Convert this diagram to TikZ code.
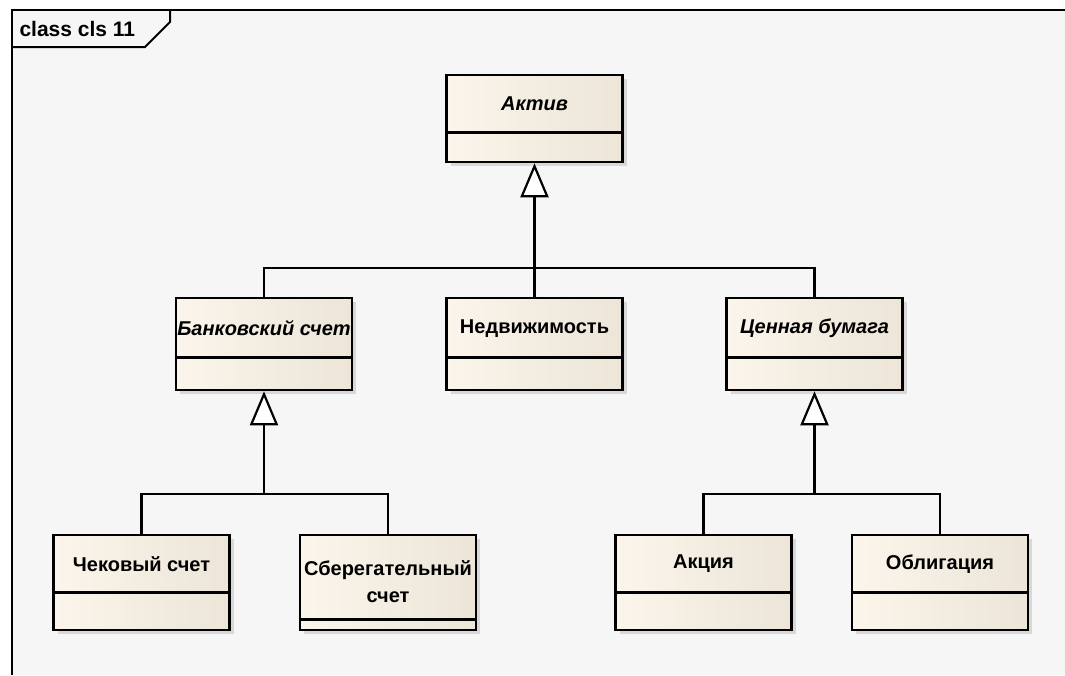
\documentclass[tikz,border=0pt]{standalone}
\usepackage{fontspec}
\setmainfont{Liberation Sans}
\usetikzlibrary{arrows.meta,shadows}
\definecolor{clsleft}{RGB}{251,245,235}
\definecolor{clsright}{RGB}{236,229,216}
\definecolor{paper}{RGB}{246,246,246}

\begin{document}
\begin{tikzpicture}[x=1pt,y=-1pt,
  cls/.style={draw=black, line width=2.6pt, left color=clsleft, right color=clsright,
    drop shadow={shadow xshift=4pt, shadow yshift=-4pt, opacity=0.25}, minimum width=176pt, inner sep=0pt},
  cname/.style={font=\fontsize{20}{27}\selectfont\bfseries, align=center},
  aname/.style={font=\fontsize{20}{27}\selectfont\bfseries\itshape, align=center},
  divider/.style={line width=2.6pt},
  link/.style={line width=2.2pt},
  gen/.style={link, -{Triangle[fill=white, length=34pt, width=28pt]}}]
\useasboundingbox (0,0) rectangle (1065,675);
\fill[white] (0,0) rectangle (1065,675);
\fill[paper] (12,10) rectangle (1065,675);
\draw[line width=2.2pt] (1065,10) -- (12,10) -- (12,675);
\draw[line width=2pt] (12,47) -- (145,47) -- (170,22) -- (170,10);
\node[font=\fontsize{21}{25}\selectfont\bfseries, anchor=west] (frametitle) at (16,29) {class cls 11};

\node[cls, minimum height=87pt] (aktiv) at (534.5,118.5) {};
\draw[divider] ([yshift=31pt]aktiv.south west) -- ([yshift=31pt]aktiv.south east);
\node[aname] (aktivt) at (534.5,104) {Актив};

\node[cls, minimum height=92pt] (bank) at (264,344) {};
\draw[divider] ([yshift=34pt]bank.south west) -- ([yshift=34pt]bank.south east);
\node[aname] (bankt) at (264,328) {Банковский счет};
\node[cls, minimum height=92pt] (nedv) at (534.5,344) {};
\draw[divider] ([yshift=34pt]nedv.south west) -- ([yshift=34pt]nedv.south east);
\node[cname] (nedvt) at (534.5,329) {Недвижимость};
\node[cls, minimum height=92pt] (cennaya) at (814.5,344) {};
\draw[divider] ([yshift=34pt]cennaya.south west) -- ([yshift=34pt]cennaya.south east);
\node[aname] (cennayat) at (814.5,328) {Ценная бумага};

\node[cls, minimum height=95pt] (chek) at (141.5,582.5) {};
\draw[divider] ([yshift=39pt]chek.south west) -- ([yshift=39pt]chek.south east);
\node[cname] (chekt) at (141.5,564) {Чековый счет};
\node[cls, minimum height=95pt] (sber) at (388,582.5) {};
\draw[divider] ([yshift=12pt]sber.south west) -- ([yshift=12pt]sber.south east);
\node[cname] (sbert) at (388,582) {Сберегательный\\счет};
\node[cls, minimum height=95pt] (akcia) at (703.5,582.5) {};
\draw[divider] ([yshift=39pt]akcia.south west) -- ([yshift=39pt]akcia.south east);
\node[cname] (akciat) at (703.5,564) {Акция};
\node[cls, minimum height=95pt] (oblig) at (940,582.5) {};
\draw[divider] ([yshift=39pt]oblig.south west) -- ([yshift=39pt]oblig.south east);
\node[cname] (obligt) at (940,564) {Облигация};

\coordinate (topbus) at (534.5,268);
\draw[link] (bank.north) |- (topbus) -| (cennaya.north);
\draw[gen] (nedv.north) -- (aktiv.south);
\coordinate (leftbus) at (264,494);
\draw[link] (chek.north) |- (leftbus) -| (sber.north);
\draw[gen] (leftbus) -- (bank.south);
\coordinate (rightbus) at (814.5,494);
\draw[link] (akcia.north) |- (rightbus) -| (oblig.north);
\draw[gen] (rightbus) -- (cennaya.south);
\end{tikzpicture}
\end{document}
